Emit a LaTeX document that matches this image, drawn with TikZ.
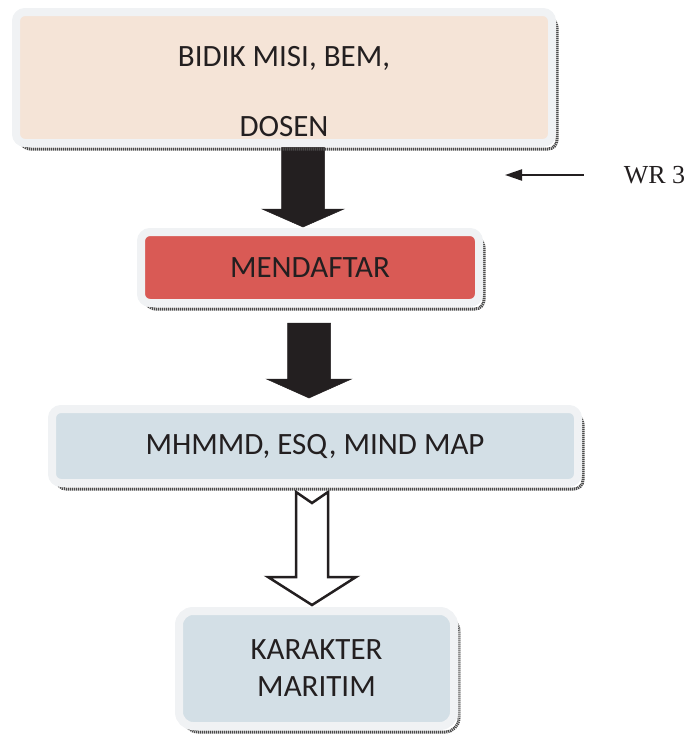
\documentclass[tikz,border=0pt]{standalone}
\usepackage{fontspec}
\setmainfont{Carlito}
\newfontfamily\wrfont{Liberation Serif}
\usetikzlibrary{positioning, calc, arrows.meta, backgrounds}
\definecolor{bordergray}{HTML}{F0F2F4}
\definecolor{peach}{HTML}{F5E4D7}
\definecolor{redfill}{HTML}{D95A55}
\definecolor{bluefill}{HTML}{D3DFE6}
\definecolor{textcol}{HTML}{231F20}
\definecolor{shadowgray}{HTML}{4A4A4A}
% block arrow: style, top, tip, shaft half width, head half width, head length
\newcommand{\blockarrow}[6]{%
  \draw[#1] ($(#3 |- #2)+(-#4,0)$) -- ($(#3)+(-#4,#6)$) -- ($(#3)+(-#5,#6)$) -- (#3)
    -- ($(#3)+(#5,#6)$) -- ($(#3)+(#4,#6)$) -- ($(#3 |- #2)+(#4,0)$) -- cycle;}

\begin{document}
\begin{tikzpicture}[x=1pt, y=1pt]
    \tikzstyle{box}=[draw=bordergray, line width=8pt, rounded corners=9pt, outer sep=0pt, inner sep=0pt,
      text=textcol, font=\fontsize{31}{37}\selectfont, align=center,
      preaction={draw=shadowgray, line width=3pt, dash pattern=on 1.2pt off 0.8pt,
        transform canvas={shift={(5pt,-6pt)}}}];
    \tikzstyle{boxtext}=[text=textcol, font=\fontsize{31}{37}\selectfont, align=center, inner sep=0pt];
    \tikzstyle{solidarrow}=[fill=textcol, draw=textcol, line width=0.5pt, line join=miter];
    \tikzstyle{hollowarrow}=[fill=white, draw=textcol, line width=2.5pt, line join=miter];
    \tikzstyle{thinarrow}=[draw=textcol, line width=2pt, -{Triangle[length=17pt, width=11pt]}];

    \useasboundingbox (0,0) rectangle (689,-734);

    \node[box, fill=peach, minimum width=536pt, minimum height=131pt] (bidik) at (284,-77.5) {};
    \node[boxtext] (bidiktext) at ([yshift=-14.5pt]bidik.center) {BIDIK MISI, BEM,\\[33pt]DOSEN};
    \node[box, fill=redfill, minimum width=338pt, minimum height=71pt, below=89pt of bidik, xshift=26pt] (daftar) {MENDAFTAR};
    \node[box, fill=bluefill, minimum width=526pt, minimum height=74pt, below=106pt of daftar, xshift=5pt] (metode) {MHMMD, ESQ, MIND MAP};
    \node[box, fill=bluefill, rounded corners=14pt, minimum width=275pt, minimum height=115pt, below=128pt of metode, xshift=1.5pt] (karakter) {KARAKTER\\MARITIM};

    \node[text=textcol, font=\wrfont\fontsize{26}{30}\selectfont, inner sep=0pt] (wr) at (654.5,-175) {WR 3};
    \coordinate (wrtip) at (505,-175);
    \draw[thinarrow] ([xshift=-40pt]wr.west) -- (wrtip);

    % block arrows between the boxes
    \coordinate (top1) at (bidik.south);
    \coordinate (tip1) at ($(daftar.north)+(-7,5)$);
    \coordinate (top2) at ($(daftar.south)+(0,-20)$);
    \coordinate (tip2) at ($(metode.north)+(-6,11)$);
    \coordinate (top3) at ($(metode.south)+(0,-9)$);
    \coordinate (tip3) at ($(karakter.north)+(-4.5,6)$);

    \begin{scope}[on background layer]
      \blockarrow{solidarrow}{top1}{tip1}{21.5}{41}{18}
      \blockarrow{solidarrow}{top2}{tip2}{21.5}{42.5}{19}
      \draw[hollowarrow] ($(tip3 |- top3)+(-16,0)$) -- ($(tip3)+(-16,28)$) -- ($(tip3)+(-44,28)$) -- (tip3)
        -- ($(tip3)+(44,28)$) -- ($(tip3)+(16,28)$) -- ($(tip3 |- top3)+(16,0)$) -- ($(tip3 |- top3)+(0,-11)$) -- cycle;
    \end{scope}
  \end{tikzpicture}
\end{document}
